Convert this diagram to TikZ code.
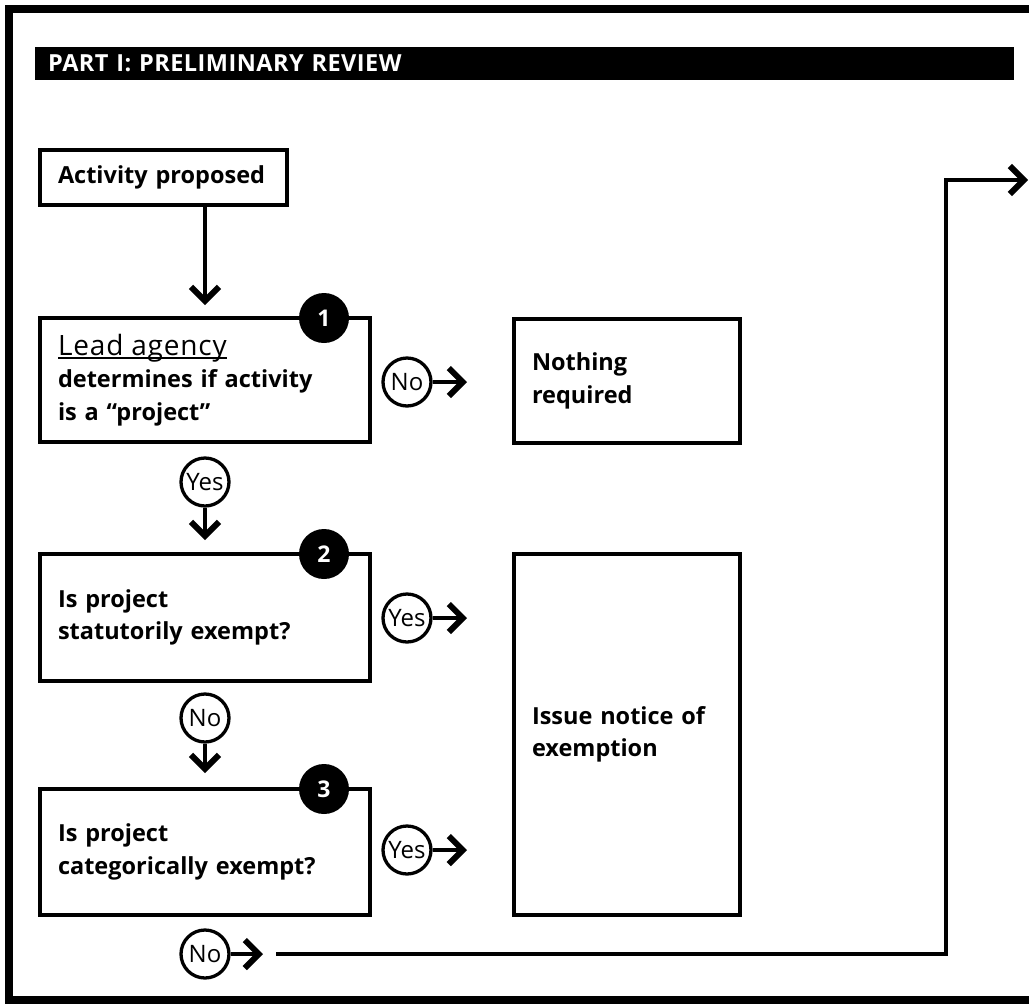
\documentclass[tikz,border=0pt]{standalone}
\usepackage{fontspec}
\setmainfont{Open Sans}
\usetikzlibrary{arrows.meta}
\newcommand\myul[1]{\setbox0\hbox{#1}\rlap{\rule[-3.5pt]{\wd0}{1.6pt}}\box0}
\tikzset{
  box/.style={draw, line width=4.5pt, rectangle, inner xsep=18pt, inner ysep=0pt,
    outer sep=0pt, align=left, font=\bfseries\fontsize{23.5}{32.5}\selectfont},
  badge/.style={circle, fill=black, minimum size=50pt, inner sep=0pt,
    text=white, font=\bfseries\fontsize{23}{23}\selectfont},
  dec/.style={circle, draw, line width=3.3pt, fill=white, minimum size=48pt, inner sep=0pt,
    font=\fontsize{24}{24}\selectfont},
  arr/.style={line width=4.5pt, -{Straight Barb[length=14pt,width=28pt,line width=6pt]}},
}
\begin{document}
\begin{tikzpicture}[x=1pt,y=-1pt]
\useasboundingbox (0,0) rectangle (1029,1005);
\clip (0,0) rectangle (1029,1005);
% frame
\draw[line width=8pt] (1060,9) -- (9,9) -- (9,1000) -- (1060,1000);
% title
\node[fill=black, text=white, anchor=north west, minimum width=979pt, minimum height=33pt,
  inner sep=0pt, text width=953pt, align=left,
  font=\bfseries\fontsize{23.5}{24}\selectfont\addfontfeatures{LetterSpace=2}] (title) at (35,47) {PART I: PRELIMINARY REVIEW};
% boxes
\node[box, minimum width=247pt, minimum height=55pt, text width=211pt] (act) at (163.5,177.5)
  {Activity proposed};
\node[box, minimum width=330pt, minimum height=124pt, text width=294pt] (b1) at (205,380)
  {{\mdseries\fontsize{28}{32.5}\selectfont\addfontfeatures{LetterSpace=3}\myul{Lead agency}}\\determines if activity\\is a “project”};
\node[box, minimum width=330pt, minimum height=127pt, text width=294pt] (b2) at (205,617.5)
  {Is project\\statutorily exempt?};
\node[box, minimum width=330pt, minimum height=126pt, text width=294pt] (b3) at (205,852)
  {Is project\\categorically exempt?};
\node[box, minimum width=226pt, minimum height=124pt, text width=190pt] (nr) at (627,381)
  {Nothing\\required};
\node[box, minimum width=226pt, minimum height=361pt, text width=190pt] (ex) at (627,734.5)
  {Issue notice of\\exemption};
% badges
\node[badge] (k1) at (324,318) {1};
\node[badge] (k2) at (324,554) {2};
\node[badge] (k3) at (324,789) {3};
% decisions
\node[dec] (no1) at (407,382) {No};
\node[dec] (yes1) at (205,482) {Yes};
\node[dec] (yes2) at (407,618) {Yes};
\node[dec] (no2) at (205,718) {No};
\node[dec] (yes3) at (407,850) {Yes};
\node[dec] (no3) at (205,954) {No};
% connectors
\draw[arr, shorten >=13pt] (act.south -| b1.north) -- (b1.north);
\draw[arr, shorten >=47pt] (no1.east) -- (no1.east -| nr.west);
\draw[arr, shorten >=14pt] (yes1.south) -- (b2.north);
\draw[arr, shorten >=47pt] (yes2.east) -- (yes2.east -| ex.west);
\draw[arr, shorten >=16pt] (no2.south) -- (b3.north);
\draw[arr, shorten >=47pt] (yes3.east) -- (yes3.east -| ex.west);
\coordinate (lstart) at (276,954);
\coordinate (bend) at (946,180);
\coordinate (out) at (1028,180);
\draw[arr, shorten >=13pt] (no3.east) -- (lstart);
\draw[arr] (lstart) -| (bend) -- (out);
\end{tikzpicture}
\end{document}
